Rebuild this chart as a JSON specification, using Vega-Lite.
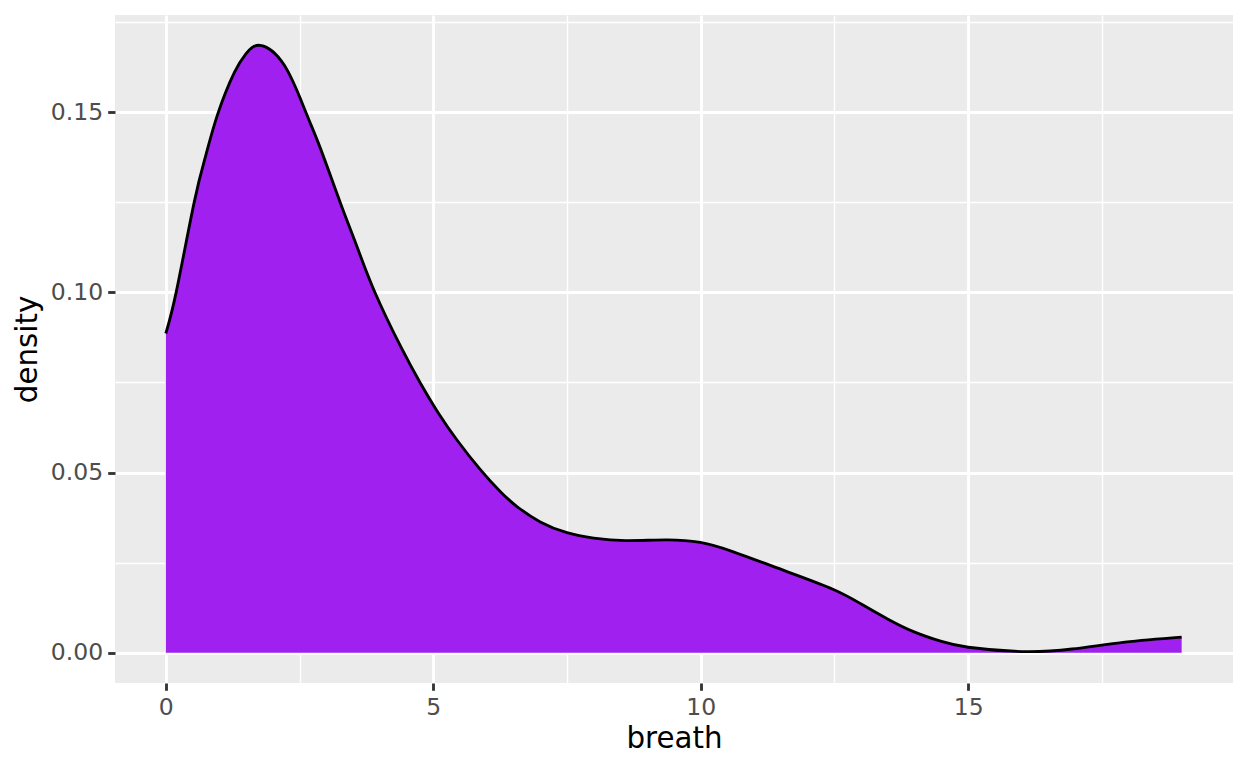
{
  "$schema": "https://vega.github.io/schema/vega-lite/v6.json",
  "width": 1118,
  "height": 668,
  "autosize": {"type": "none"},
  "padding": {"left": 115, "top": 15, "right": 15, "bottom": 85},
  "background": "white",
  "config": {
    "view": {"fill": "#EBEBEB", "stroke": null},
    "axis": {
      "domain": false,
      "labelFont": "DejaVu Sans",
      "labelFontSize": 23.5,
      "labelColor": "#4D4D4D",
      "tickColor": "#333333",
      "tickSize": 7.3,
      "tickWidth": 2.85,
      "labelPadding": 5,
      "titleFont": "DejaVu Sans",
      "titleFontSize": 29.3,
      "titleFontWeight": "normal",
      "titleColor": "black",
      "gridColor": "white"
    }
  },
  "data": {
    "values": [
      {"breath": 0, "density": 0.0886},
      {"breath": 0.2, "density": 0.1005},
      {"breath": 0.53, "density": 0.125},
      {"breath": 0.75, "density": 0.1382},
      {"breath": 0.97, "density": 0.1495},
      {"breath": 1.28, "density": 0.1610},
      {"breath": 1.5, "density": 0.1663},
      {"breath": 1.76, "density": 0.1686},
      {"breath": 2.21, "density": 0.1632},
      {"breath": 2.61, "density": 0.1503},
      {"breath": 2.89, "density": 0.1400},
      {"breath": 3.26, "density": 0.125},
      {"breath": 3.58, "density": 0.1125},
      {"breath": 3.91, "density": 0.100},
      {"breath": 4.39, "density": 0.0850},
      {"breath": 4.76, "density": 0.0748},
      {"breath": 5.10, "density": 0.0664},
      {"breath": 5.45, "density": 0.0589},
      {"breath": 5.88, "density": 0.0508},
      {"breath": 6.26, "density": 0.0446},
      {"breath": 6.57, "density": 0.0405},
      {"breath": 7.0, "density": 0.0363},
      {"breath": 7.5, "density": 0.0333},
      {"breath": 8.0, "density": 0.0318},
      {"breath": 8.6, "density": 0.0311},
      {"breath": 9.37, "density": 0.0313},
      {"breath": 9.99, "density": 0.0306},
      {"breath": 10.61, "density": 0.0280},
      {"breath": 11.61, "density": 0.0225},
      {"breath": 12.47, "density": 0.0176},
      {"breath": 13.0, "density": 0.0135},
      {"breath": 13.5, "density": 0.0093},
      {"breath": 14.0, "density": 0.0057},
      {"breath": 14.5, "density": 0.0031},
      {"breath": 15.0, "density": 0.0015},
      {"breath": 16.0, "density": 0.0003},
      {"breath": 16.94, "density": 0.0010},
      {"breath": 17.93, "density": 0.0029},
      {"breath": 18.99, "density": 0.0043}
    ]
  },
  "resolve": {"axis": {"x": "independent", "y": "independent"}},
  "layer": [
    {
      "mark": {"type": "area", "color": "#A020F0", "interpolate": "natural", "opacity": 1},
      "encoding": {
        "x": {
          "field": "breath", "type": "quantitative",
          "scale": {"domain": [-0.95, 19.95], "nice": false, "zero": false},
          "axis": {"orient": "top", "values": [2.5, 7.5, 12.5, 17.5], "grid": true, "gridWidth": 1.42, "labels": false, "ticks": false, "title": null}
        },
        "y": {
          "field": "density", "type": "quantitative", "stack": null,
          "scale": {"domain": [-0.00843, 0.17703], "nice": false, "zero": false},
          "axis": {"orient": "right", "values": [0.025, 0.075, 0.125, 0.175], "grid": true, "gridWidth": 1.42, "labels": false, "ticks": false, "title": null}
        }
      }
    },
    {
      "mark": {"type": "line", "color": "black", "strokeWidth": 2.85, "interpolate": "natural"},
      "encoding": {
        "x": {
          "field": "breath", "type": "quantitative",
          "axis": {"orient": "bottom", "values": [0, 5, 10, 15], "grid": true, "gridWidth": 2.85, "title": "breath", "titlePadding": 6}
        },
        "y": {
          "field": "density", "type": "quantitative",
          "axis": {"orient": "left", "values": [0, 0.05, 0.1, 0.15], "format": ".2f", "grid": true, "gridWidth": 2.85, "title": "density", "titlePadding": 8}
        }
      }
    }
  ]
}
